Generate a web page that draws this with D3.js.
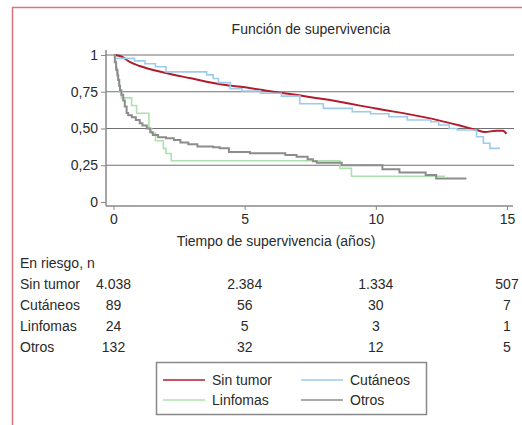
<!DOCTYPE html>
<html>
<head>
<meta charset="utf-8">
<script src="https://cdn.jsdelivr.net/npm/d3@7"></script>
<style>
  body { margin: 0; background: #fff; }
  svg text { font-family: "Liberation Sans Narrow", "Arial Narrow", sans-serif; fill: #2a2a2a; }
</style>
</head>
<body>
<div id="chart"></div>
<script>
// Survival curves, [years, survival]
const sinTumor = [[0.06, 1.0], [0.3, 0.99], [0.6, 0.955], [1.0, 0.925], [2.0, 0.877], [2.9, 0.843], [4.2, 0.797],
  [5.0, 0.78], [5.84, 0.757], [6.72, 0.735], [8.0, 0.70], [10.0, 0.636], [11.93, 0.574],
  [13.2, 0.52], [13.84, 0.49], [14.15, 0.476], [14.6, 0.485], [14.85, 0.485], [14.98, 0.463]];

const cutaneos = [[0, 1], [0.05, 0.977], [0.8, 0.96], [1.2, 0.94], [1.6, 0.92], [2.0, 0.885],
  [3.55, 0.865], [3.8, 0.84], [4.0, 0.812], [4.45, 0.77], [4.9, 0.755], [5.6, 0.74], [6.4, 0.72],
  [7.1, 0.668], [8.0, 0.637], [9.1, 0.614], [9.8, 0.6], [10.5, 0.58], [11.2, 0.558], [12.1, 0.546],
  [12.4, 0.524], [12.8, 0.5], [13.1, 0.49], [13.84, 0.444], [14.1, 0.4], [14.35, 0.365], [14.73, 0.365]];

const linfomas = [[0, 1], [0.05, 0.958], [0.09, 0.917], [0.13, 0.875], [0.17, 0.833], [0.21, 0.792],
  [0.25, 0.75], [0.3, 0.708], [0.69, 0.656], [0.88, 0.604], [1.35, 0.5], [1.45, 0.469], [1.6, 0.417],
  [1.9, 0.365], [2.0, 0.33], [2.2, 0.281], [8.63, 0.229], [9.07, 0.175], [12.63, 0.175]];

const otros = [[0, 1], [0.05, 0.95], [0.1, 0.9], [0.15, 0.86], [0.18, 0.83], [0.22, 0.79], [0.25, 0.76],
  [0.3, 0.73], [0.37, 0.69], [0.43, 0.65], [0.5, 0.605], [0.56, 0.59], [0.7, 0.576], [0.85, 0.558],
  [1.0, 0.535], [1.1, 0.52], [1.27, 0.5], [1.4, 0.475], [1.5, 0.456], [1.7, 0.44], [2.0, 0.433],
  [2.3, 0.422], [2.55, 0.405], [2.85, 0.393], [3.2, 0.378], [3.8, 0.372], [4.05, 0.365], [4.4, 0.34],
  [5.2, 0.332], [6.55, 0.32], [6.98, 0.308], [7.4, 0.29], [7.6, 0.278], [7.75, 0.267], [8.7, 0.25],
  [10.25, 0.222], [10.9, 0.2], [11.9, 0.184], [12.3, 0.16], [13.45, 0.16]];

const xTicks = [0, 5, 10, 15];
const yTicks = [0, 0.25, 0.5, 0.75, 1];
const yTickLabels = ["0", "0,25", "0,50", "0,75", "1"];

// Number at risk table
const riskGroups = ["Sin tumor", "Cutáneos", "Linfomas", "Otros"];
const riskSinTumor = [4038, 2384, 1334, 507];
const riskCutaneos = [89, 56, 30, 7];
const riskLinfomas = [24, 5, 3, 1];
const riskOtros = [132, 32, 12, 5];

const series = [
  { name: "Sin tumor", data: sinTumor, color: "#b01c2e", width: 2, curve: d3.curveMonotoneX },
  { name: "Cutáneos", data: cutaneos, color: "#9ccbec", width: 1.6, curve: d3.curveStepAfter },
  { name: "Linfomas", data: linfomas, color: "#ade0ad", width: 1.6, curve: d3.curveStepAfter },
  { name: "Otros", data: otros, color: "#8c8c8c", width: 2, curve: d3.curveStepAfter }
];

const W = 522, H = 425;
const es = d3.formatLocale({ decimal: ",", thousands: ".", grouping: [3], currency: ["", " €"] });
const fmt = es.format(",d");

const svg = d3.select("#chart").append("svg")
  .attr("width", W).attr("height", H);

const x = d3.scaleLinear().domain([0, 15]).range([113.5, 507]);
const y = d3.scaleLinear().domain([0, 1]).range([202, 55]);

// frame (red rule at top and left)
svg.append("path")
  .attr("d", "M12.5," + H + "V7.5H" + W)
  .attr("fill", "none")
  .attr("stroke", "#d9737c")
  .attr("stroke-width", 1.5);

svg.append("text")
  .attr("x", 311).attr("y", 29)
  .attr("dy", "0.35em")
  .attr("text-anchor", "middle")
  .style("font-size", "14px")
  .text("Función de supervivencia");

// grid lines
svg.append("g").selectAll("line")
  .data(yTicks.filter(d => d > 0))
  .enter().append("line")
  .attr("x1", 106).attr("x2", 514)
  .attr("y1", d => y(d)).attr("y2", d => y(d))
  .attr("stroke", "#707070")
  .attr("stroke-width", 1.2);

// y axis
const yAxis = svg.append("g")
  .attr("transform", "translate(106,0)")
  .call(d3.axisLeft(y).tickValues(yTicks).tickFormat((d, i) => yTickLabels[i]).tickSize(5).tickPadding(3));
yAxis.select(".domain").remove();
yAxis.selectAll("line").attr("stroke", "#888");
yAxis.selectAll("text").style("font-size", "14px").attr("fill", "#2a2a2a");
yAxis.append("line").attr("y1", 50).attr("y2", 206).attr("stroke", "#888").attr("stroke-width", 1.5);

// x axis
const xAxis = svg.append("g")
  .attr("transform", "translate(0,206)")
  .call(d3.axisBottom(x).tickValues(xTicks).tickSize(4).tickPadding(4));
xAxis.select(".domain").remove();
xAxis.selectAll("line").attr("stroke", "#888");
xAxis.selectAll("text").style("font-size", "14px").attr("fill", "#2a2a2a");
xAxis.append("line").attr("x1", 106).attr("x2", 513).attr("stroke", "#888").attr("stroke-width", 1.5);

svg.append("text")
  .attr("x", 276).attr("y", 241)
  .attr("dy", "0.35em")
  .attr("text-anchor", "middle")
  .style("font-size", "14px")
  .text("Tiempo de supervivencia (años)");

// curves
series.forEach(s => {
  const line = d3.line()
    .x(d => x(d[0]))
    .y(d => y(d[1]))
    .curve(s.curve);
  svg.append("path")
    .datum(s.data)
    .attr("d", line)
    .attr("fill", "none")
    .attr("stroke", s.color)
    .attr("stroke-width", s.width);
});

// number at risk
const riskRows = [riskSinTumor, riskCutaneos, riskLinfomas, riskOtros];
svg.append("text")
  .attr("x", 20).attr("y", 263).attr("dy", "0.35em")
  .style("font-size", "14px")
  .text("En riesgo, n");

riskGroups.forEach((g, i) => {
  const ry = 284 + i * 21;
  svg.append("text")
    .attr("x", 20).attr("y", ry).attr("dy", "0.35em")
    .style("font-size", "14px")
    .text(g);
  svg.append("g").selectAll("text")
    .data(riskRows[i])
    .enter().append("text")
    .attr("x", (d, j) => x(xTicks[j]))
    .attr("y", ry).attr("dy", "0.35em")
    .attr("text-anchor", "middle")
    .style("font-size", "14px")
    .text(d => fmt(d));
});

// legend
const legend = svg.append("g");
legend.append("rect")
  .attr("x", 156.5).attr("y", 362.5)
  .attr("width", 270).attr("height", 52)
  .attr("fill", "#fff")
  .attr("stroke", "#888")
  .attr("stroke-width", 1.5);

const legendCols = [163, 301];
const legendRows = [380, 400];
series.forEach((s, k) => {
  const lx = legendCols[k % 2], ly = legendRows[Math.floor(k / 2)];
  legend.append("line")
    .attr("x1", lx).attr("x2", lx + 42)
    .attr("y1", ly).attr("y2", ly)
    .attr("stroke", s.color)
    .attr("stroke-width", 1.5);
  legend.append("text")
    .attr("x", lx + 49).attr("y", ly).attr("dy", "0.35em")
    .style("font-size", "14px")
    .text(s.name);
});
</script>
</body>
</html>
